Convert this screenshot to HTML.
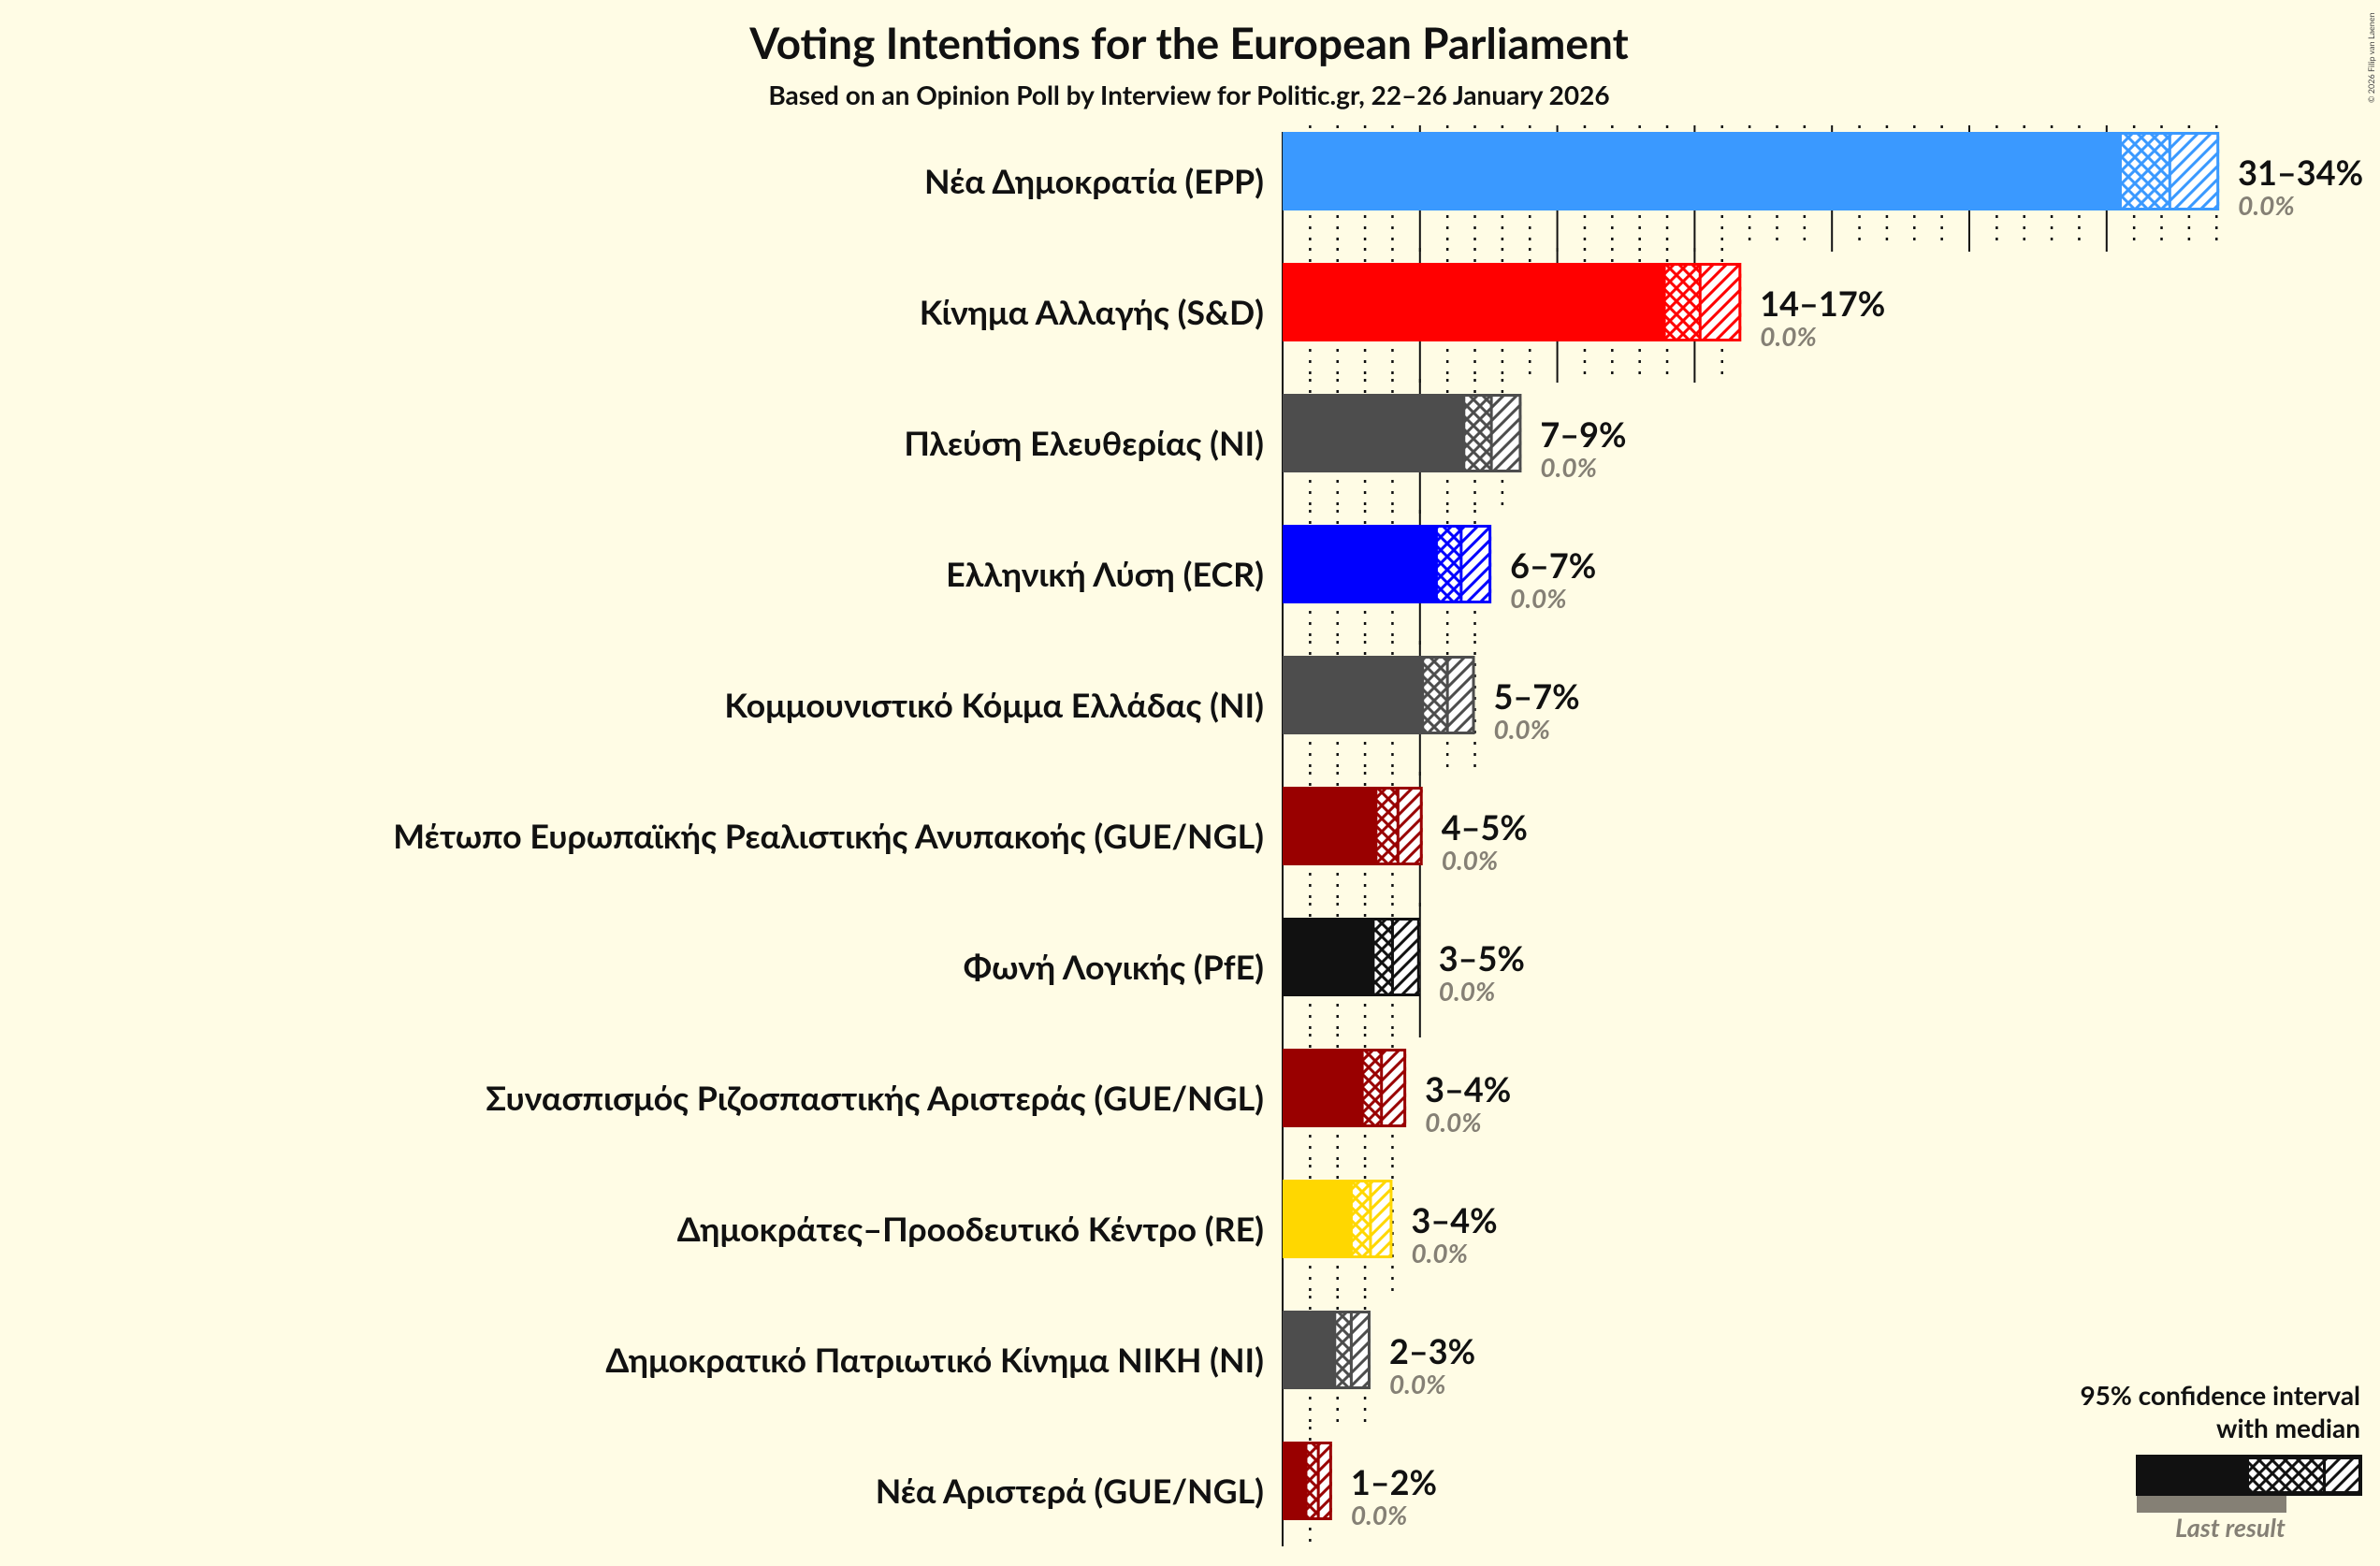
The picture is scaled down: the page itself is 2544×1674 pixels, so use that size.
<!DOCTYPE html>
<html><head><meta charset="utf-8"><style>
html,body{margin:0;padding:0;background:#fffce5;}
svg{display:block;font-family:"Lato","Liberation Sans","DejaVu Sans",sans-serif;}
</style></head><body>
<svg id="chart" width="2544" height="1674" viewBox="0 0 2544 1674" xmlns="http://www.w3.org/2000/svg">
<rect width="2544" height="1674" fill="#fffce5"/>
<text x="1271" y="63" text-anchor="middle" font-size="46" font-weight="bold" fill="#111">Voting Intentions for the European Parliament</text>
<text x="1271" y="112" text-anchor="middle" font-size="28" font-weight="bold" fill="#111">Based on an Opinion Poll by Interview for Politic.gr, 22–26 January 2026</text>
<text x="2538" y="110" transform="rotate(-90 2538 110)" font-size="9" fill="#444">© 2026 Filip van Laenen</text>
<defs id="defs"></defs>
<g id="grid"></g>
<g id="bars"></g>
<g id="legend">
  <text x="2523" y="1502" text-anchor="end" font-size="28" font-weight="bold" fill="#111">95% confidence interval</text>
  <text x="2523" y="1537" text-anchor="end" font-size="28" font-weight="bold" fill="#111">with median</text>
  <rect x="2284" y="1599" width="160" height="18" fill="#858075"/>
  <rect x="2283" y="1555" width="242" height="44" fill="#111"/>
  <rect x="2404" y="1560" width="79" height="34" fill="url(#cross-legend)"/>
  <rect x="2486" y="1560" width="35" height="34" fill="url(#diag-legend)"/>
  <text x="2384" y="1643" text-anchor="middle" font-size="27" font-style="italic" font-weight="bold" fill="#858075">Last result</text>
</g>
</svg>
<script>
const parties = ["Νέα Δημοκρατία (EPP)","Κίνημα Αλλαγής (S&D)","Πλεύση Ελευθερίας (NI)","Ελληνική Λύση (ECR)","Κομμουνιστικό Κόμμα Ελλάδας (NI)","Μέτωπο Ευρωπαϊκής Ρεαλιστικής Ανυπακοής (GUE/NGL)","Φωνή Λογικής (PfE)","Συνασπισμός Ριζοσπαστικής Αριστεράς (GUE/NGL)","Δημοκράτες–Προοδευτικό Κέντρο (RE)","Δημοκρατικό Πατριωτικό Κίνημα ΝΙΚΗ (NI)","Νέα Αριστερά (GUE/NGL)"];
const lowValues = [30.5,13.9,6.6,5.6,5.1,3.4,3.3,2.9,2.5,1.9,0.85];
const medianValues = [32.3,15.2,7.6,6.5,6.0,4.2,4.0,3.6,3.2,2.5,1.3];
const highValues = [34.1,16.7,8.7,7.6,7.0,5.1,5.0,4.5,4.0,3.2,1.8];
const rangeLabels = ["31–34%","14–17%","7–9%","6–7%","5–7%","4–5%","3–5%","3–4%","3–4%","2–3%","1–2%"];
const lastResults = ["0.0%","0.0%","0.0%","0.0%","0.0%","0.0%","0.0%","0.0%","0.0%","0.0%","0.0%"];
const colors = ["#3a99ff","#ff0000","#4d4d4d","#0000ff","#4d4d4d","#990000","#111111","#990000","#ffd700","#4d4d4d","#990000"];

const NS="http://www.w3.org/2000/svg";
const X0=1371, PX=29.36, Y0=183, ROW=140, BH=84;
const xs=v=>X0+v*PX;
const yc=i=>Y0+i*ROW;
function mk(tag,attrs,parent){const e=document.createElementNS(NS,tag);for(const k in attrs)e.setAttribute(k,attrs[k]);parent.appendChild(e);return e;}
const defs=document.getElementById('defs'),grid=document.getElementById('grid'),bars=document.getElementById('bars');

function addPatterns(id,col){
  const c=mk('pattern',{id:'cross-'+id,patternUnits:'userSpaceOnUse',width:14,height:14},defs);
  mk('rect',{width:14,height:14,fill:'#ffffff'},c);
  mk('path',{d:'M0,0 L14,14 M14,0 L0,14 M-7,7 L7,21 M7,-7 L21,7 M-7,7 L7,-7 M7,21 L21,7',stroke:col,'stroke-width':3},c);
  const d=mk('pattern',{id:'diag-'+id,patternUnits:'userSpaceOnUse',width:14,height:14},defs);
  mk('rect',{width:14,height:14,fill:'#ffffff'},d);
  mk('path',{d:'M0,14 L14,0 M-7,7 L7,-7 M7,21 L21,7',stroke:col,'stroke-width':3},d);
}
addPatterns('legend','#111');

const ax=mk('line',{x1:X0,y1:Y0-BH/2,x2:X0,y2:1653,stroke:'#111','stroke-width':2},grid);



parties.forEach((p,i)=>{
  const c=yc(i), top=c-BH/2, bot=c+BH/2;
  const maxTick=Math.floor(highValues[i]);
  const y1 = i===0 ? top-7 : c-ROW/2+12;
  const y2 = i===parties.length-1 ? 1653 : c+ROW/2+12;
  for(let t=1;t<=maxTick;t++){
    const major=t%5===0;
    const g=mk('line',{x1:xs(t),x2:xs(t),y1:y1,y2:major?y2+4:y2,stroke:'#111','stroke-width':major?2:2.5,'stroke-dasharray':major?'none':'3,9'},grid);
    
    
  }
  const id='p'+i;
  addPatterns(id,colors[i]);
  const g=mk('g',{},bars);
  
  
  const solid=mk('rect',{x:X0,y:top,width:xs(lowValues[i])-X0,height:BH,fill:colors[i]},g);
  
  
  const cr=mk('rect',{x:xs(lowValues[i]),y:top+3,width:xs(medianValues[i])-xs(lowValues[i]),height:BH-6,fill:'url(#cross-'+id+')'},g);
  
  
  const dg=mk('rect',{x:xs(medianValues[i]),y:top+3,width:xs(highValues[i])-xs(medianValues[i]),height:BH-6,fill:'url(#diag-'+id+')'},g);
  
  
  const ol=mk('rect',{x:xs(lowValues[i]),y:top+1.5,width:xs(highValues[i])-xs(lowValues[i])-1.5,height:BH-3,fill:'none',stroke:colors[i],'stroke-width':3},g);
  
  
  const md=mk('line',{x1:xs(medianValues[i]),x2:xs(medianValues[i]),y1:top,y2:bot,stroke:colors[i],'stroke-width':3},g);
  
  
  const nm=mk('text',{x:1351,y:c+24,'text-anchor':'end','font-size':35.8,'font-weight':'bold',fill:'#111'},g);
  nm.textContent=p;
  
  
  const rl=mk('text',{x:xs(highValues[i])+20,y:c+15,'font-size':36,'font-weight':'bold',fill:'#111'},g);
  rl.textContent=rangeLabels[i];
  
  
  const lr=mk('text',{x:xs(highValues[i])+20,y:c+47,'font-size':28,'font-weight':'bold','font-style':'italic',fill:'#858075'},g);
  lr.textContent=lastResults[i];
  
  
});
</script>
</body></html>
